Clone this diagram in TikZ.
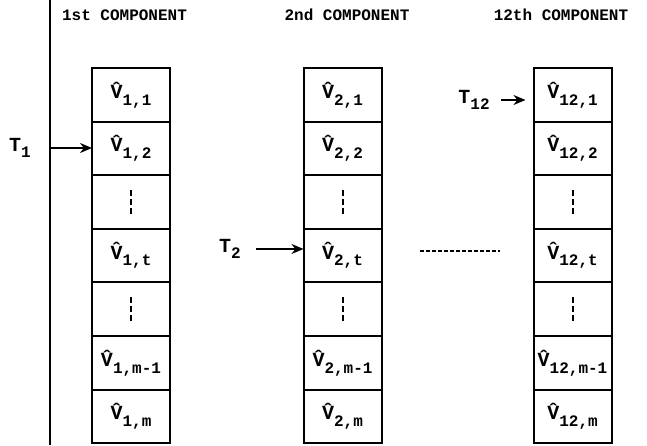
\documentclass[tikz,border=0pt]{standalone}
\usepackage{fontspec}
\setmonofont{Liberation Mono}
\usetikzlibrary{positioning,arrows.meta}

\newcommand{\vhat}[1]{{\fontsize{10}{10}\selectfont\^{V}}\raisebox{-0.8ex}{\fontsize{8}{8}\selectfont #1}}
\newcommand{\tlab}[1]{{\fontsize{10}{10}\selectfont T}\raisebox{-0.8ex}{\fontsize{8}{8}\selectfont #1}}

\begin{document}
\begin{tikzpicture}[
  x=0.5pt, y=-0.5pt,
  font=\ttfamily\bfseries\fontsize{8}{8}\selectfont,
  cell/.style={draw, line width=1pt, minimum width=39pt, minimum height=26.8pt,
               inner sep=0pt, outer sep=0pt},
  head/.style={inner sep=1pt},
  arr/.style={-{Stealth[length=6pt,width=5pt]}, line width=0.9pt},
  vdash/.style={line width=1pt, dash pattern=on 3pt off 1.5pt},
]
\useasboundingbox (0,0) rectangle (647,445);
\draw[line width=1pt] (50,0) -- (50,445);
\foreach \c/\x/\ord/\hx in {1/131/1st/124.5, 2/342.5/2nd/347, 12/572.5/12th/561}{
  \node[head] (h\c) at (\hx,15) {\ord\ COMPONENT};
  \node[cell] (c\c-1) at (\x,94.8) {\vhat{\c,1}};
  \node[cell, below=0pt of c\c-1] (c\c-2) {\vhat{\c,2}};
  \node[cell, below=0pt of c\c-2] (c\c-3) {};
  \node[cell, below=0pt of c\c-3] (c\c-t) {\vhat{\c,t}};
  \node[cell, below=0pt of c\c-t] (c\c-5) {};
  \node[cell, below=0pt of c\c-5] (c\c-m1) {\vhat{\c,m-1}};
  \node[cell, below=0pt of c\c-m1] (c\c-m) {\vhat{\c,m}};
  \draw[vdash] ([yshift=6pt]c\c-3.center) -- ([yshift=-6pt]c\c-3.center);
  \draw[vdash] ([yshift=6pt]c\c-5.center) -- ([yshift=-6pt]c\c-5.center);
}
\node (t1) at (20,148) {\tlab{1}};
\node (t2) at (230,249) {\tlab{2}};
\node (t12) at (474,100) {\tlab{12}};
\draw[arr] ([xshift=6pt]t1.east) -- (t1 -| c1-2.west);
\draw[arr] ([xshift=4pt]t2.east) -- (t2 -| c2-t.west);
\draw[arr] ([xshift=2pt]t12.east) -- ([xshift=-4pt]t12 -| c12-1.west);
\coordinate (dl) at (420,251);
\coordinate (dr) at (500,251);
\draw[dash pattern=on 2pt off 1pt, line width=0.8pt] (dl) -- (dr);
\end{tikzpicture}
\end{document}
